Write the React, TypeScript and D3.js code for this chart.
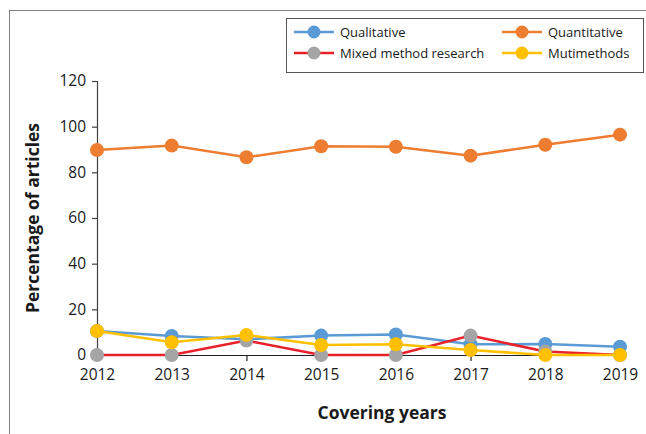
import React, { useEffect, useRef } from "react";
import * as d3 from "d3";

// ── Data ──────────────────────────────────────────────────────────────────────

const YEARS = ["2012", "2013", "2014", "2015", "2016", "2017", "2018", "2019"];
const QUALITATIVE = [10.5, 8.3, 6.9, 8.5, 9.0, 4.7, 4.8, 3.6];
const QUANTITATIVE = [89.8, 91.7, 86.6, 91.4, 91.2, 87.3, 92.1, 96.5];
const MIXED = [0, 0, 6.3, 0, 0, 8.5, 1.5, 0];
const MULTI = [10.5, 5.6, 8.8, 4.4, 4.7, 2.2, 0, 0];
const Y_TICKS = [0, 20, 40, 60, 80, 100, 120];

const SERIES = [
  { name: "Qualitative", values: QUALITATIVE, line: "#5B9BD5", dot: "#5B9BD5" },
  { name: "Quantitative", values: QUANTITATIVE, line: "#ED7D31", dot: "#ED7D31" },
  { name: "Mixed method research", values: MIXED, line: "#E8202A", dot: "#A5A5A5" },
  { name: "Mutimethods", values: MULTI, line: "#FFC000", dot: "#FFC000" },
];

// ── Layout ────────────────────────────────────────────────────────────────────

const W = 646;
const H = 434;
const FONT = "'Open Sans', 'DejaVu Sans', sans-serif";
const X0 = 97;
const X1 = 620;
const Y0 = 355;
const Y1 = 81;

function render(svgEl: SVGSVGElement) {
  const svg = d3.select(svgEl);
  svg.selectAll("*").remove();

  // outer frame (right/bottom edges fall outside the picture)
  svg.append("rect")
    .attr("x", 9.5).attr("y", 10.5)
    .attr("width", 700).attr("height", 500)
    .attr("fill", "none").attr("stroke", "#7f7f7f").attr("stroke-width", 1);

  const x = d3.scalePoint<string>().domain(YEARS).range([X0, X1]);
  const y = d3.scaleLinear().domain([0, 120]).range([Y0, Y1]);

  // Y axis
  const yAxis = d3.axisLeft(y).tickValues(Y_TICKS).tickSize(5).tickPadding(6);
  svg.append("g")
    .attr("transform", `translate(${X0},0)`)
    .call(yAxis)
    .call((g) => g.select(".domain").attr("stroke", "#404040").attr("stroke-width", 1.2))
    .call((g) => g.selectAll(".tick line").attr("stroke", "#404040").attr("stroke-width", 1.2))
    .call((g) =>
      g.selectAll(".tick text")
        .attr("font-family", FONT).attr("font-size", 15.5).attr("fill", "#1a1a1a")
    );

  // X axis
  const xAxis = d3.axisBottom(x).tickSize(6).tickSizeOuter(0).tickPadding(8);
  svg.append("g")
    .attr("transform", `translate(0,${Y0})`)
    .call(xAxis)
    .call((g) => g.select(".domain").attr("stroke", "#202020").attr("stroke-width", 1.2))
    .call((g) => g.selectAll(".tick line").attr("stroke", "#202020").attr("stroke-width", 1.2))
    .call((g) =>
      g.selectAll(".tick text")
        .attr("font-family", FONT).attr("font-size", 15.5).attr("fill", "#1a1a1a")
    );

  // axis titles
  svg.append("text")
    .attr("transform", `translate(39,${(Y0 + Y1) / 2}) rotate(-90)`)
    .attr("text-anchor", "middle")
    .attr("font-family", FONT).attr("font-weight", "bold").attr("font-size", 17.5)
    .attr("fill", "#1a1a1a")
    .text("Percentage of articles");

  svg.append("text")
    .attr("x", 382).attr("y", 419)
    .attr("text-anchor", "middle")
    .attr("font-family", FONT).attr("font-weight", "bold").attr("font-size", 17.5)
    .attr("fill", "#1a1a1a")
    .text("Covering years");

  // lines + markers
  const line = d3.line<number>()
    .x((_, i) => x(YEARS[i]) ?? 0)
    .y((d) => y(d));

  SERIES.forEach((s) => {
    const g = svg.append("g");
    g.append("path")
      .attr("d", line(s.values))
      .attr("fill", "none")
      .attr("stroke", s.line)
      .attr("stroke-width", 2.5);
    g.selectAll("circle")
      .data(s.values)
      .join("circle")
      .attr("cx", (_, i) => x(YEARS[i]) ?? 0)
      .attr("cy", (d) => y(d))
      .attr("r", 7)
      .attr("fill", s.dot);
  });

  // legend
  const lg = svg.append("g");
  lg.append("rect")
    .attr("x", 286.5).attr("y", 18.5)
    .attr("width", 357).attr("height", 54)
    .attr("fill", "#fff").attr("stroke", "#555").attr("stroke-width", 1);

  const cols = [294, 502];
  const rows = [32, 53];
  SERIES.forEach((s, i) => {
    const lx = cols[i % 2];
    const ly = rows[Math.floor(i / 2)];
    lg.append("line")
      .attr("x1", lx).attr("x2", lx + 40)
      .attr("y1", ly).attr("y2", ly)
      .attr("stroke", s.line).attr("stroke-width", 2.5);
    lg.append("circle")
      .attr("cx", lx + 20).attr("cy", ly).attr("r", 6.5)
      .attr("fill", s.dot);
    lg.append("text")
      .attr("x", lx + 46).attr("y", ly + 4.5)
      .attr("font-family", FONT).attr("font-size", 13).attr("fill", "#1a1a1a")
      .text(s.name);
  });
}

export default function App() {
  const ref = useRef<SVGSVGElement>(null);
  useEffect(() => {
    if (ref.current) render(ref.current);
  }, []);
  return (
    <svg
      ref={ref}
      width={W}
      height={H}
      style={{ position: "absolute", left: 0, top: 0, background: "#fff" }}
    />
  );
}
